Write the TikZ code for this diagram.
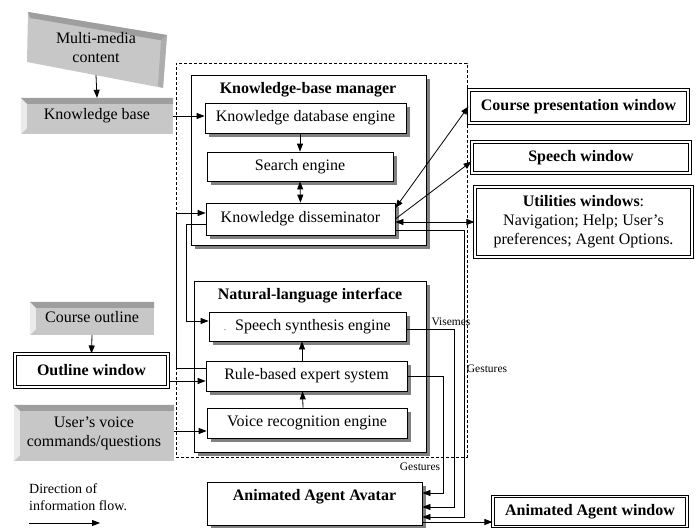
\documentclass[tikz,border=0pt]{standalone}
\usepackage{fontspec}
\setmainfont{Liberation Serif}
\usetikzlibrary{calc, arrows.meta, shadows}
\newcommand{\bigtxt}{\fontsize{16}{19}\selectfont}
\newcommand{\smalltxt}{\fontsize{11.5}{13}\selectfont}
\newcommand{\legtxt}{\fontsize{14}{17}\selectfont}
% top and left bevel of a gray slab
\newcommand{\bevel}[1]{%
  \fill[black!38] (#1.north west) -- (#1.north east) -- ([shift={(0,6)}]#1.north east)
    -- ([shift={(6,6)}]#1.north west) -- cycle;
  \fill[black!8] (#1.north west) -- ([shift={(6,6)}]#1.north west)
    -- ([shift={(6,-6)}]#1.south west) -- (#1.south west) -- cycle;}
\tikzset{
  box/.style = {draw=black, fill=white, line width=0.8pt, inner sep=0pt,
    align=center, font=\bigtxt,
    drop shadow={shadow xshift=3.5pt, shadow yshift=-3.5pt, fill=black!50, opacity=1}},% module
  win/.style = {draw=black, fill=white, line width=1.1pt, double=white,
    double distance=1.4pt, inner sep=0pt, align=center, font=\bfseries\bigtxt},% window
  slab/.style = {fill=black!22, inner sep=0pt, align=center, font=\bigtxt},% data source
  title/.style = {inner sep=0pt, font=\bfseries\bigtxt},
  flow/.style = {-{Triangle[length=8pt,width=6pt]}, line width=0.8pt},
  flow2/.style = {{Triangle[length=8pt,width=6pt]}-{Triangle[length=8pt,width=6pt]}, line width=0.8pt},
  tag/.style = {font=\smalltxt, inner sep=0pt}
}
\begin{document}
\begin{tikzpicture}[x=1pt, y=-1pt]
\useasboundingbox (0,0) rectangle (698,527);

% sources on the left
\fill[black!22] (28,12) -- (167,35) -- (163,88) -- (27,62) -- cycle;
\fill[black!38] (28,12) -- (167,35) -- (165,41) -- (30,18) -- cycle;
\fill[black!32] (167,35) -- (163,88) -- (158,86) -- (161,40) -- cycle;
\node[inner sep=0pt, align=center, font=\bigtxt, minimum width=130pt, minimum height=54pt] (mmc) at (96,48) {Multi-media\\content};
\node[slab, minimum width=152pt, minimum height=36pt] (kb) at (97,116) {\strut Knowledge base};
\bevel{kb}
\node[slab, minimum width=124pt, minimum height=33pt] (co) at (92,318.5) {\strut Course outline};
\bevel{co}
\node[win, minimum width=153pt, minimum height=33pt] (ow) at (91.5,370.5) {Outline window};
\node[slab, minimum width=160pt, minimum height=56pt] (uvc) at (94,433) {User's voice\\commands/questions};
\bevel{uvc}

% core
\node[draw, dash pattern=on 3pt off 2pt, line width=0.6pt, minimum width=291pt, minimum height=394pt] (core) at (321.5,260) {};

\node[box, minimum width=235pt, minimum height=170pt] (kbm) at (308.5,160) {};
\node[title] (kbmt) at (308,90) {Knowledge-base manager};
\node[box, minimum width=201pt, minimum height=30pt] (kde) at (305.5,118) {Knowledge database engine};
\node[box, minimum width=186pt, minimum height=29pt] (se) at (300,166.5) {Search engine};
\node[box, minimum width=189pt, minimum height=32pt] (kd) at (300.5,219) {Knowledge disseminator};

\node[box, minimum width=232pt, minimum height=171pt] (nli) at (310,366.5) {};
\node[title] (nlit) at (310,296) {Natural-language interface};
\node[box, minimum width=197pt, minimum height=29pt] (sse) at (307.5,326.5) {{\fontsize{8}{8}\selectfont.}\hspace{9pt}Speech synthesis engine};
\node[box, minimum width=201pt, minimum height=30pt] (rbe) at (306.5,376) {Rule-based expert system};
\node[box, minimum width=200pt, minimum height=30pt] (vre) at (307,423) {Voice recognition engine};

% windows on the right
\node[win, minimum width=219pt, minimum height=33pt] (cpw) at (578.5,106.5) {Course presentation window};
\node[win, minimum width=218pt, minimum height=31pt] (sw) at (581,157.5) {Speech window};
\node[win, minimum width=217pt, minimum height=70pt, font=\bigtxt] (uw) at (583.5,222) {\textbf{Utilities windows}:\\Navigation; Help; User's\\preferences; Agent Options.};

% avatar
\node[box, minimum width=215pt, minimum height=43pt, font=\bfseries\bigtxt, text height=11pt, text depth=17pt] (aaa) at (314.5,503.5) {Animated Agent Avatar};
\node[win, minimum width=194pt, minimum height=30pt] (aaw) at (590,511.5) {Animated Agent window};

% information flow
\draw[flow] (mmc.south) -- (kb.north);
\draw[flow] (kb.east) -- (kb.east -| kde.west);
\draw[flow] (kde.south -| se.north) -- (se.north);
\draw[flow2] (se.south) -- (kd.north);
\draw[flow] ([yshift=8pt]rbe.west) -- ++(-29,0) |- ([yshift=6pt]kd.west);
\draw[flow] ([yshift=-5pt]kd.west) -- ++(-19,0) |- ([yshift=5.5pt]sse.west);
\draw[flow2] ([yshift=11pt]kd.east) -- (cpw.west);
\draw[flow] (kd.east) -- ([yshift=-4pt]sw.west);
\path ([yshift=-3pt]kd.east) coordinate (kdo);
\draw[flow2] (kdo) -- (kdo -| uw.west);

\draw[flow] (co.south) -- (ow.north);
\path ([yshift=-5pt]rbe.west) coordinate (rin);
\draw[flow] (rin -| ow.east) -- (rin);
\path ([yshift=-8pt]vre.west) coordinate (vin);
\draw[flow] (vin -| uvc.east) -- (vin);
\draw[flow] ([xshift=-4pt]vre.north) -- ([xshift=-4pt]rbe.south);
\draw[flow] ([xshift=-4.5pt]rbe.north) -- ([xshift=-5.5pt]sse.south);

\draw[flow] ([yshift=-11pt]kd.east) -- ++(69,0) |- ([yshift=-13.5pt]aaa.east);
\draw[flow] ([yshift=-3pt]sse.east) -- ++(48,0) |- ([yshift=-3.5pt]aaa.east);
\draw[flow] (rbe.east) -- ++(36,0) |- ([yshift=10.5pt]aaa.east);
\path ([yshift=-18.5pt]aaa.east) coordinate (aout);
\draw[flow] (aout) -- (aout -| aaw.west);

\node[tag] (vis) at (451,322) {Visemes};
\node[tag] (ges1) at (487,369) {Gestures};
\node[tag] (ges2) at (420,467) {Gestures};

% legend
\node[font=\legtxt, align=left, anchor=north west, inner sep=0pt] (leg) at (29,483) {Direction of\\information flow.};
\coordinate (la) at (29,523);
\coordinate (lb) at (100,523);
\draw[flow] (la) -- (lb);
\end{tikzpicture}
\end{document}
